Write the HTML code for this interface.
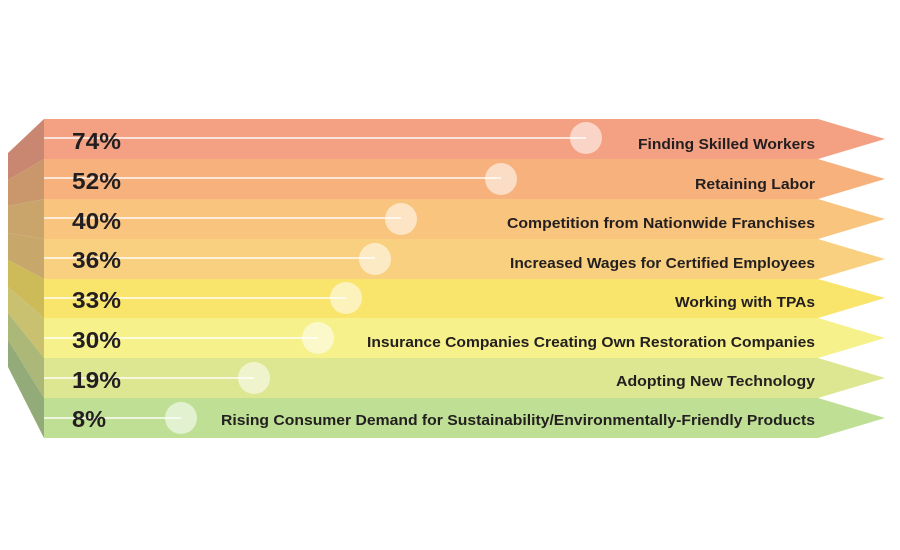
<!DOCTYPE html>
<html><head><meta charset="utf-8"><style>
html,body{margin:0;padding:0;background:#fff;width:900px;height:550px;overflow:hidden}
svg{display:block}
.p{font-family:"Liberation Sans",sans-serif;font-weight:bold;font-size:23px;fill:#231f20}
.l{font-family:"Liberation Sans",sans-serif;font-weight:bold;font-size:15px;fill:#231f20}
</style></head><body>
<svg width="900" height="550" viewBox="0 0 900 550" xmlns="http://www.w3.org/2000/svg">
<polygon points="44,119 8,153 8,180 44,159" fill="#c98670"/>
<polygon points="44,159 8,180 8,206 44,199" fill="#c9976b"/>
<polygon points="44,199 8,206 8,233 44,239" fill="#c9a56c"/>
<polygon points="44,239 8,233 8,260 44,279" fill="#c7a86a"/>
<polygon points="44,279 8,260 8,287 44,318" fill="#cdbb5a"/>
<polygon points="44,318 8,287 8,313 44,358" fill="#c9c070"/>
<polygon points="44,358 8,313 8,340 44,398" fill="#acb878"/>
<polygon points="44,398 8,340 8,367 44,438" fill="#93ab78"/>
<polygon points="44,119 818,119 885,139 818,159 44,159" fill="#f4a083"/>
<polygon points="44,159 818,159 885,179 818,199 44,199" fill="#f6b17c"/>
<polygon points="44,199 818,199 885,219 818,239 44,239" fill="#f8c47e"/>
<polygon points="44,239 818,239 885,259 818,279 44,279" fill="#f9d07f"/>
<polygon points="44,279 818,279 885,298 818,318 44,318" fill="#f9e46c"/>
<polygon points="44,318 818,318 885,338 818,358 44,358" fill="#f6f18a"/>
<polygon points="44,358 818,358 885,378 818,398 44,398" fill="#dde791"/>
<polygon points="44,398 818,398 885,418 818,438 44,438" fill="#bedf94"/>
<g stroke="#fff" stroke-opacity="0.7" stroke-width="2">
<line x1="44" y1="138" x2="586" y2="138"/>
<line x1="44" y1="178" x2="501" y2="178"/>
<line x1="44" y1="218" x2="401" y2="218"/>
<line x1="44" y1="258" x2="375" y2="258"/>
<line x1="44" y1="298" x2="346" y2="298"/>
<line x1="44" y1="338" x2="318" y2="338"/>
<line x1="44" y1="378" x2="254" y2="378"/>
<line x1="44" y1="418" x2="181" y2="418"/>
</g>
<g fill="#fff" fill-opacity="0.55">
<circle cx="586" cy="138" r="16"/>
<circle cx="501" cy="179" r="16"/>
<circle cx="401" cy="219" r="16"/>
<circle cx="375" cy="259" r="16"/>
<circle cx="346" cy="298" r="16"/>
<circle cx="318" cy="338" r="16"/>
<circle cx="254" cy="378" r="16"/>
<circle cx="181" cy="418" r="16"/>
</g>
<text class="p" x="72" y="149" textLength="49" lengthAdjust="spacingAndGlyphs">74%</text>
<text class="p" x="72" y="189" textLength="49" lengthAdjust="spacingAndGlyphs">52%</text>
<text class="p" x="72" y="229" textLength="49" lengthAdjust="spacingAndGlyphs">40%</text>
<text class="p" x="72" y="268" textLength="49" lengthAdjust="spacingAndGlyphs">36%</text>
<text class="p" x="72" y="308" textLength="49" lengthAdjust="spacingAndGlyphs">33%</text>
<text class="p" x="72" y="348" textLength="49" lengthAdjust="spacingAndGlyphs">30%</text>
<text class="p" x="72" y="388" textLength="49" lengthAdjust="spacingAndGlyphs">19%</text>
<text class="p" x="72" y="427" textLength="34" lengthAdjust="spacingAndGlyphs">8%</text>
<text class="l" x="638" y="149" textLength="177" lengthAdjust="spacingAndGlyphs">Finding Skilled Workers</text>
<text class="l" x="695" y="189" textLength="120" lengthAdjust="spacingAndGlyphs">Retaining Labor</text>
<text class="l" x="507" y="228" textLength="308" lengthAdjust="spacingAndGlyphs">Competition from Nationwide Franchises</text>
<text class="l" x="510" y="268" textLength="305" lengthAdjust="spacingAndGlyphs">Increased Wages for Certified Employees</text>
<text class="l" x="675" y="307" textLength="140" lengthAdjust="spacingAndGlyphs">Working with TPAs</text>
<text class="l" x="367" y="347" textLength="448" lengthAdjust="spacingAndGlyphs">Insurance Companies Creating Own Restoration Companies</text>
<text class="l" x="616" y="386" textLength="199" lengthAdjust="spacingAndGlyphs">Adopting New Technology</text>
<text class="l" x="221" y="425" textLength="594" lengthAdjust="spacingAndGlyphs">Rising Consumer Demand for Sustainability/Environmentally-Friendly Products</text>
</svg>
</body></html>
